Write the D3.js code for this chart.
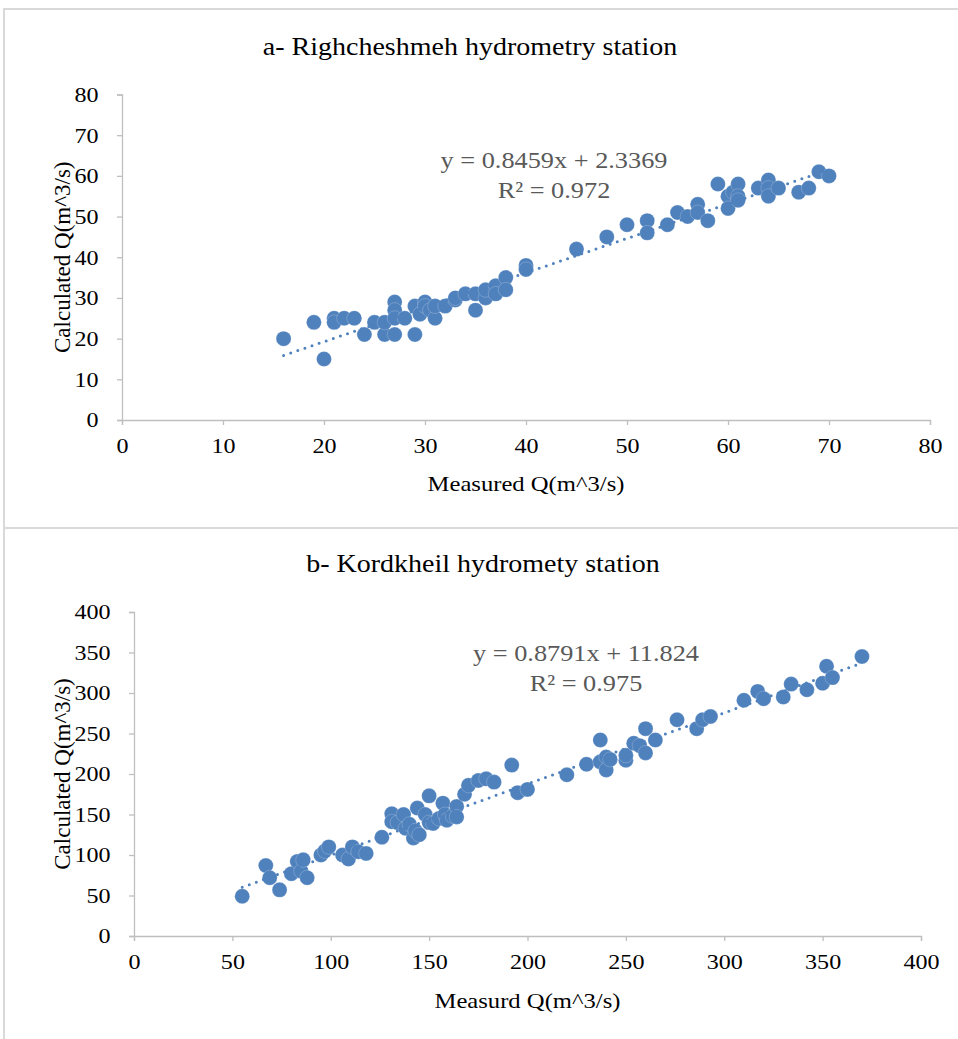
<!DOCTYPE html>
<html>
<head>
<meta charset="utf-8">
<script src="https://cdn.jsdelivr.net/npm/d3@7"></script>
<style>
  body { margin: 0; background: #fff; }
  text { font-family: "Liberation Serif", "Times New Roman", serif; }
</style>
</head>
<body>
<script>
// panel a - Righcheshmeh
const aMeasured = [16, 19, 20, 21, 21, 22, 23, 24, 25, 26, 26, 27, 27, 27, 27, 28, 29, 29, 29.5, 30, 30, 30.5, 31, 31, 32, 33, 33, 34, 35, 35, 36, 36, 37, 37, 38, 38, 40, 40, 45, 48, 50, 52, 52, 54, 55, 56, 57, 57, 58, 59, 60, 60, 60.5, 61, 61, 61, 63, 64, 64, 64, 65, 67, 68, 69, 70];
const aCalculated = [20, 24, 15, 25, 24, 25, 25, 21, 24, 21, 24, 29, 27, 21, 25, 25, 28, 21, 26, 29, 28, 27, 25, 28, 28, 29.5, 30, 31, 27, 31, 30, 32, 33, 31, 35, 32, 38, 37, 42, 45, 48, 49, 46, 48, 51, 50, 53, 51, 49, 58, 55, 52, 56, 58, 55, 54, 57, 59, 57, 55, 57, 56, 57, 61, 60];
const aTicks = [0, 10, 20, 30, 40, 50, 60, 70, 80];
const aFit = { slope: 0.8459, intercept: 2.3369, r2: "0.972", eq: "y = 0.8459x + 2.3369" };

// panel b - Kordkheil
const bMeasured = [55, 67, 69, 74, 80, 83, 85, 86, 88, 95, 97, 99, 106, 109, 111, 114, 118, 126, 131, 131, 134, 137, 138, 140, 142, 143, 144, 145, 148, 150, 150, 152, 155, 157, 158, 159, 162, 164, 164, 168, 170, 175, 179, 183, 192, 195, 200, 220, 230, 237, 237, 240, 240, 242, 250, 250, 254, 257, 260, 260, 265, 276, 286, 289, 293, 310, 317, 320, 330, 334, 342, 350, 352, 355, 370];
const bCalculated = [49, 87, 72, 57, 77, 92, 80, 94, 72, 100, 105, 110, 100, 95, 110, 104, 102, 122, 151, 141, 140, 150, 133, 138, 121, 130, 158, 125, 150, 173, 140, 139, 145, 164, 150, 143, 148, 160, 147, 175, 186, 192, 194, 190, 211, 177, 181, 199, 212, 242, 215, 221, 205, 218, 217, 223, 238, 235, 226, 256, 242, 267, 256, 267, 271, 291, 302, 293, 295, 311, 304, 312, 333, 319, 345];
const bTicksX = [0, 50, 100, 150, 200, 250, 300, 350, 400];
const bTicksY = [0, 50, 100, 150, 200, 250, 300, 350, 400];
const bFit = { slope: 0.8791, intercept: 11.824, r2: "0.975", eq: "y = 0.8791x + 11.824" };

const width = 958, height = 1039;
const blue = "#4f81bd";
const axisColor = "#bfbfbf";
const stretch = 1.12; // text in the picture is a little wider than tall

const svg = d3.select("body").append("svg")
  .attr("width", width)
  .attr("height", height);

// chart frames
svg.append("rect").attr("x", 4).attr("y", 9).attr("width", 970).attr("height", 519)
  .attr("fill", "none").attr("stroke", "#d9d9d9").attr("stroke-width", 2);
svg.append("rect").attr("x", 4).attr("y", 528).attr("width", 970).attr("height", 530)
  .attr("fill", "none").attr("stroke", "#d9d9d9").attr("stroke-width", 2);

const label = (g, x, y, txt, size, color) => {
  return g.append("text")
    .attr("transform", `translate(${x},${y}) scale(${stretch},1)`)
    .attr("text-anchor", "middle")
    .attr("fill", color)
    .style("font-size", size + "px")
    .text(txt);
};

const drawPanel = (p) => {
  const x = d3.scaleLinear().domain(p.xDomain).range(p.xRange);
  const y = d3.scaleLinear().domain(p.yDomain).range(p.yRange);
  const g = svg.append("g");

  // axes
  const xAxis = g.append("g")
    .attr("transform", `translate(0,${p.yRange[0]})`)
    .call(d3.axisBottom(x).tickValues(p.xTicks).tickSize(5).tickPadding(12).tickFormat(d3.format("d")));
  const yAxis = g.append("g")
    .attr("transform", `translate(${p.xRange[0]},0)`)
    .call(d3.axisLeft(y).tickValues(p.yTicks).tickSize(5).tickPadding(16).tickFormat(d3.format("d")));

  [xAxis, yAxis].forEach(a => {
    a.select(".domain").attr("stroke", axisColor).attr("stroke-width", 1.3);
    a.selectAll(".tick line").attr("stroke", axisColor).attr("stroke-width", 1.3);
    a.selectAll(".tick text")
      .attr("fill", "#000")
      .attr("transform", `scale(${stretch},1)`)
      .style("font-size", "21.5px")
      .style("font-family", "'Liberation Serif', serif");
  });
  xAxis.selectAll(".tick text").attr("dy", "0.75em");

  // points
  const pts = p.xs.map((v, i) => ({ x: v, y: p.ys[i] }));
  g.append("g").selectAll("circle")
    .data(pts)
    .enter()
    .append("circle")
    .attr("cx", d => x(d.x))
    .attr("cy", d => y(d.y))
    .attr("r", 7.5)
    .attr("fill", blue)
    .attr("stroke", "#fff")
    .attr("stroke-opacity", 0.35)
    .attr("stroke-width", 0.6);

  // linear trendline
  const xmin = d3.min(p.xs), xmax = d3.max(p.xs);
  g.append("line")
    .attr("x1", x(xmin)).attr("y1", y(p.fit.slope * xmin + p.fit.intercept))
    .attr("x2", x(xmax)).attr("y2", y(p.fit.slope * xmax + p.fit.intercept))
    .attr("stroke", blue)
    .attr("stroke-width", 3)
    .attr("stroke-linecap", "round")
    .attr("stroke-dasharray", "0 7.5");

  // equation label
  label(g, p.eqX, p.eqY, p.fit.eq, 23.5, "#595959");
  label(g, p.eqX, p.eqY + 30, "R² = " + p.fit.r2, 23.5, "#595959");

  // titles
  label(g, p.titleX, p.titleY, p.title, 25, "#000");
  label(g, (p.xRange[0] + p.xRange[1]) / 2, p.xTitleY, p.xTitle, 22, "#000");
  g.append("text")
    .attr("transform", `translate(${p.yTitleX},${(p.yRange[0] + p.yRange[1]) / 2}) rotate(-90)`)
    .attr("text-anchor", "middle")
    .attr("fill", "#000")
    .style("font-size", "23px")
    .text("Calculated Q(m^3/s)");
};

drawPanel({
  xs: aMeasured, ys: aCalculated, fit: aFit,
  xDomain: [0, 80], yDomain: [0, 80],
  xRange: [122, 930], yRange: [420, 94.5],
  xTicks: aTicks, yTicks: aTicks,
  eqX: 554, eqY: 168,
  title: "a- Righcheshmeh hydrometry station", titleX: 470, titleY: 55,
  xTitle: "Measured Q(m^3/s)", xTitleY: 491, yTitleX: 70
});

drawPanel({
  xs: bMeasured, ys: bCalculated, fit: bFit,
  xDomain: [0, 400], yDomain: [0, 400],
  xRange: [134, 921], yRange: [936, 612],
  xTicks: bTicksX, yTicks: bTicksY,
  eqX: 586, eqY: 661,
  title: "b- Kordkheil hydromety station", titleX: 483, titleY: 572,
  xTitle: "Measurd Q(m^3/s)", xTitleY: 1008, yTitleX: 70
});
</script>
</body>
</html>
